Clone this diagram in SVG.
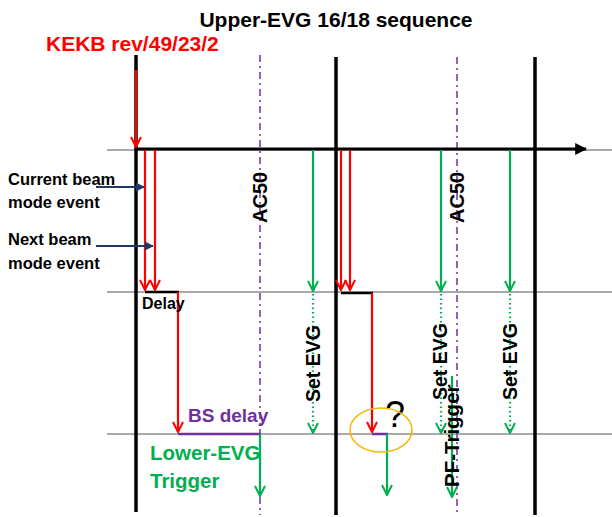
<svg xmlns="http://www.w3.org/2000/svg" width="612" height="517" viewBox="0 0 612 517">
<defs>
<style>
.t{font-family:"Liberation Sans",Arial,sans-serif;font-weight:bold}
.thick{stroke:#000;stroke-width:3.5;fill:none}
.thin{stroke:#555;stroke-width:1.2;fill:none}
.ac{stroke:#7030A0;stroke-width:1.5;stroke-dasharray:7 4 2 4;fill:none}
.red{stroke:#FF0000;stroke-width:2.2;fill:none}
.grn{stroke:#00B050;stroke-width:2.2;fill:none}
.dot{stroke:#00B050;stroke-width:2.2;stroke-dasharray:1.5 3;fill:none}
.blu{stroke:#1F3864;stroke-width:2;fill:none}
</style>
<marker id="ar" viewBox="0 0 12 12" refX="11" refY="6" markerWidth="12" markerHeight="12" markerUnits="userSpaceOnUse" orient="auto"><path d="M1,1 L11,6 L1,11" stroke="#FF0000" stroke-width="2" fill="none"/></marker>
<marker id="ag" viewBox="0 0 12 12" refX="11" refY="6" markerWidth="12" markerHeight="12" markerUnits="userSpaceOnUse" orient="auto"><path d="M1,1 L11,6 L1,11" stroke="#00B050" stroke-width="2" fill="none"/></marker>
<marker id="ab" viewBox="0 0 10 10" refX="9" refY="5" markerWidth="9" markerHeight="9" markerUnits="userSpaceOnUse" orient="auto"><path d="M0,0 L10,5 L0,10 Z" fill="#1F3864"/></marker>
<marker id="ak" viewBox="0 0 10 10" refX="9" refY="5" markerWidth="12" markerHeight="12" markerUnits="userSpaceOnUse" orient="auto"><path d="M0,0 L10,5 L0,10 Z" fill="#000"/></marker>
</defs>
<rect width="612" height="517" fill="#fff"/>

<g id="title"><text class="t" x="336" y="27" font-size="21" text-anchor="middle">Upper-EVG 16/18 sequence</text></g>
<g id="kekb-label"><text class="t" x="46" y="51" font-size="21" fill="#FF0000">KEKB rev/49/23/2</text></g>

<g id="grid">
<line class="thin" x1="107" y1="150" x2="612" y2="150"/>
<line class="thin" x1="107" y1="292" x2="612" y2="292"/>
<line class="thin" x1="107" y1="434" x2="612" y2="434"/>
<line class="ac" x1="260" y1="55" x2="260" y2="515"/>
<line class="ac" x1="457" y1="57" x2="457" y2="515"/>
<line class="thick" x1="136" y1="55" x2="136" y2="512"/>
<line class="thick" x1="336" y1="57" x2="336" y2="515"/>
<line class="thick" x1="535" y1="57" x2="535" y2="515"/>
</g>

<g id="connectors">
<line stroke="#000" stroke-width="3" x1="136" y1="149" x2="586" y2="149" marker-end="url(#ak)"/>
<line class="red" x1="136" y1="70" x2="136" y2="147" marker-end="url(#ar)"/>
<line class="red" x1="145" y1="150" x2="145" y2="290" marker-end="url(#ar)"/>
<line class="red" x1="155" y1="150" x2="155" y2="290" marker-end="url(#ar)"/>
<line stroke="#000" stroke-width="2.5" x1="145" y1="292" x2="179" y2="292"/>
<line class="red" x1="178" y1="292" x2="178" y2="432" marker-end="url(#ar)"/>
<line stroke="#7030A0" stroke-width="2.5" x1="178" y1="434" x2="260" y2="434"/>
<line class="grn" x1="260" y1="434" x2="260" y2="496" marker-end="url(#ag)"/>
<line class="blu" x1="96" y1="187" x2="144" y2="187" marker-end="url(#ab)"/>
<line class="blu" x1="96" y1="246" x2="153" y2="246" marker-end="url(#ab)"/>

<line class="grn" x1="313" y1="150" x2="313" y2="291" marker-end="url(#ag)"/>
<line class="dot" x1="313" y1="294" x2="313" y2="433" marker-end="url(#ag)"/>
<line class="grn" x1="441" y1="150" x2="441" y2="291" marker-end="url(#ag)"/>
<line class="dot" x1="441" y1="294" x2="441" y2="433" marker-end="url(#ag)"/>
<line class="grn" x1="510" y1="150" x2="510" y2="291" marker-end="url(#ag)"/>
<line class="dot" x1="510" y1="294" x2="510" y2="433" marker-end="url(#ag)"/>

<line class="red" x1="341" y1="150" x2="341" y2="290" marker-end="url(#ar)"/>
<line class="red" x1="350" y1="150" x2="350" y2="290" marker-end="url(#ar)"/>
<line stroke="#000" stroke-width="2.5" x1="341" y1="293" x2="373" y2="293"/>
<line class="red" x1="372" y1="293" x2="372" y2="432" marker-end="url(#ar)"/>
<line stroke="#7030A0" stroke-width="2.5" x1="372" y1="434" x2="388" y2="434"/>
<line class="grn" x1="387" y1="434" x2="387" y2="495" marker-end="url(#ag)"/>
<line class="grn" x1="452" y1="376" x2="452" y2="497" marker-end="url(#ag)"/>
</g>

<g id="labels">
<text class="t" x="8" y="185" font-size="16.5">Current beam</text>
<text class="t" x="8" y="208" font-size="16.5">mode event</text>
<text class="t" x="8" y="245" font-size="16.5">Next beam</text>
<text class="t" x="8" y="269" font-size="16.5">mode event</text>
<text class="t" x="142" y="309" font-size="16">Delay</text>
<text class="t" x="188" y="422" font-size="19" fill="#7030A0">BS delay</text>
<text class="t" x="150" y="460" font-size="20.5" fill="#00B050">Lower-EVG</text>
<text class="t" x="150" y="488" font-size="20.5" fill="#00B050">Trigger</text>
<text class="t" font-size="20" transform="translate(267,223) rotate(-90)">AC50</text>
<text class="t" font-size="20" transform="translate(464,223) rotate(-90)">AC50</text>
<text class="t" font-size="19.5" transform="translate(320,402) rotate(-90)">Set EVG</text>
<text class="t" font-size="19.5" transform="translate(447,400) rotate(-90)">Set EVG</text>
<text class="t" font-size="19.5" transform="translate(517,400) rotate(-90)">Set EVG</text>
<text class="t" font-size="20.5" transform="translate(459,487) rotate(-90)">PF-Trigger</text>
<text x="385" y="427" font-size="36" font-family="Liberation Sans,Arial,sans-serif">?</text>
</g>

<g id="highlight"><ellipse cx="381" cy="430" rx="31" ry="22" fill="none" stroke="#F5B800" stroke-width="1.5"/></g>
</svg>
